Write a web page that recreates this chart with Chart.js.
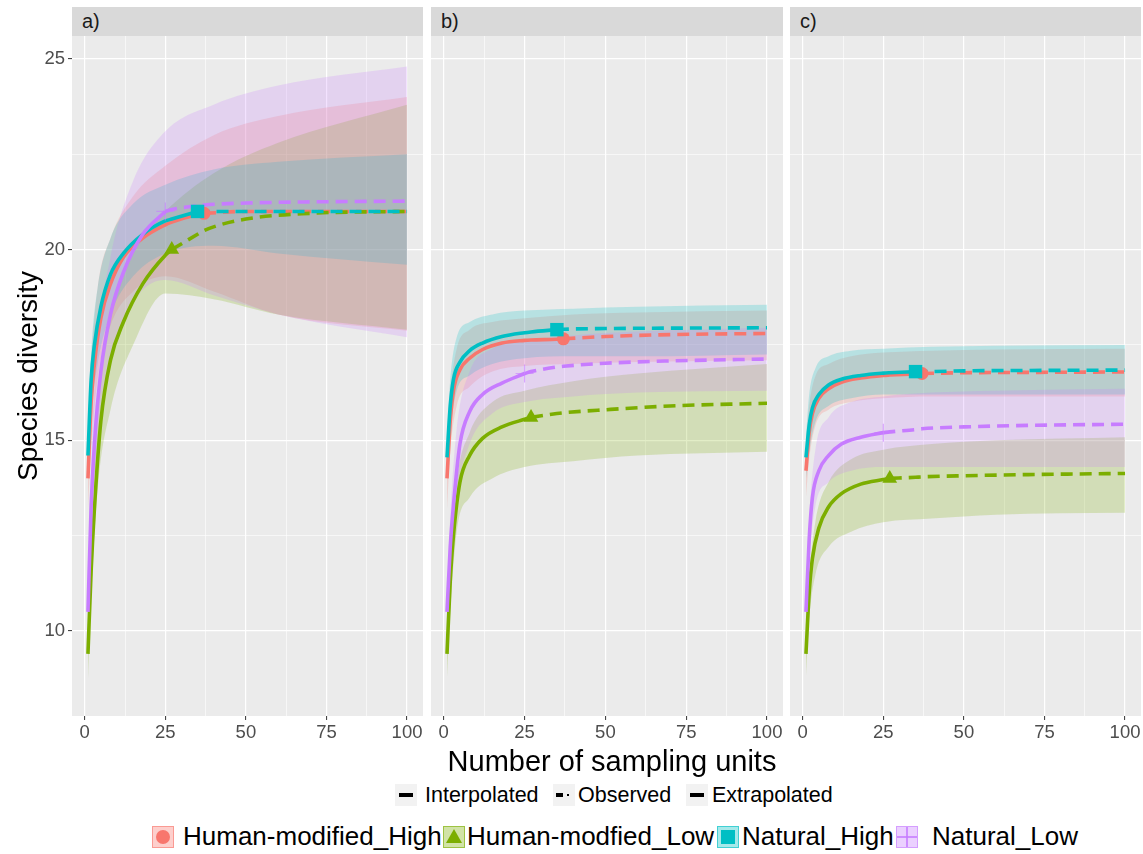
<!DOCTYPE html>
<html>
<head>
<meta charset="utf-8">
<script src="https://cdn.jsdelivr.net/npm/chart.js@4.4.1/dist/chart.umd.min.js"></script>
<style>
  body { margin: 0; background: #fff; width: 1143px; height: 854px; position: relative; overflow: hidden;
         font-family: "Liberation Sans", Arial, sans-serif; }
  canvas { position: absolute; }
  .strip { position: absolute; top: 7px; height: 29px; background: #D9D9D9; }
  .strip span { position: absolute; left: 10px; top: 0; line-height: 29px; font-size: 20px; color: #1A1A1A; }
  .lab { position: absolute; white-space: nowrap; color: #000; }
  .lkey { position: absolute; width: 22px; height: 22px; background: #F2F2F2; top: 784px; }
  .lkey i { position: absolute; background: #000; }
  .fkey { position: absolute; width: 20px; height: 20px; top: 826px; }
</style>
</head>
<body>

<div class="strip" style="left:72px;width:351px"><span>a)</span></div>
<div class="strip" style="left:431px;width:352px"><span>b)</span></div>
<div class="strip" style="left:790px;width:351px"><span>c)</span></div>

<canvas id="pa" width="423" height="710" style="left:0;top:36px"></canvas>
<canvas id="pb" width="352" height="710" style="left:431px;top:36px"></canvas>
<canvas id="pc" width="351" height="710" style="left:790px;top:36px"></canvas>

<div class="lab" style="left:0;width:1224px;top:744px;line-height:34px;font-size:29px;text-align:center">Number of sampling units</div>
<div class="lab" style="left:-122px;width:300px;top:359px;line-height:34px;font-size:28px;text-align:center;transform:rotate(-90deg)">Species diversity</div>

<div class="lkey" style="left:395px"><i style="left:4px;top:9px;width:14px;height:4px"></i></div>
<div class="lab" style="left:425px;top:783px;line-height:24px;font-size:21.5px">Interpolated</div>
<div class="lkey" style="left:553px"><i style="left:3px;top:9px;width:7px;height:4px"></i><i style="left:14px;top:10px;width:2px;height:2px"></i></div>
<div class="lab" style="left:578px;top:783px;line-height:24px;font-size:21.5px">Observed</div>
<div class="lkey" style="left:686px"><i style="left:4px;top:9px;width:14px;height:4px"></i></div>
<div class="lab" style="left:712px;top:783px;line-height:24px;font-size:21.5px">Extrapolated</div>

<div id="fillLegend"></div>

<script>
// sample sizes (x) for the curves and for the confidence bands
const lineX = [1, 2, 3, 5, 8, 12, 18, 25, 27, 35, 37, 50, 70, 100];
const bandX = [1, 2, 4, 8, 15, 25, 40, 60, 100];
const xTicks = [0, 12.5, 25, 37.5, 50, 62.5, 75, 87.5, 100];
const yTicks = [10, 12.5, 15, 17.5, 20, 22.5, 25];

const seriesNames = ['Human-modified_High', 'Human-modfied_Low', 'Natural_High', 'Natural_Low'];
const seriesColors = ['#F8766D', '#7CAE00', '#00BFC4', '#C77CFF'];
const obsX = [37, 27, 35, 25];

// panel a
const aHmHigh = [14.0, 16.0, 17.0, 18.2, 19.1, 19.8, 20.3, 20.65, 20.72, 20.92, 20.95, 21.0, 21.0, 21.0];
const aHmLow = [9.4, 11.6, 13.2, 15.5, 17.1, 18.1, 19.1, 19.85, 20.0, 20.4, 20.5, 20.8, 20.95, 21.0];
const aNatHigh = [14.6, 16.6, 17.5, 18.5, 19.35, 19.9, 20.4, 20.75, 20.8, 21.0, 21.0, 21.0, 21.0, 21.0];
const aNatLow = [10.5, 13.3, 14.9, 16.8, 18.3, 19.4, 20.4, 21.0, 21.05, 21.15, 21.17, 21.22, 21.25, 21.27];
const aHmHighLo = [13.2, 14.8, 16.6, 18.0, 18.9, 19.3, 18.9, 18.3, 17.87];
const aHmHighHi = [15.0, 17.0, 19.0, 20.3, 21.4, 22.2, 23.0, 23.5, 24.0];
const aHmLowLo = [8.7, 10.9, 13.7, 15.8, 17.5, 18.85, 18.7, 18.3, 17.9];
const aHmLowHi = [9.9, 12.3, 16.0, 18.3, 20.0, 21.0, 22.0, 22.8, 23.8];
const aNatHighLo = [14.0, 15.6, 17.0, 18.3, 19.3, 19.9, 20.1, 19.9, 19.6];
const aNatHighHi = [15.2, 17.3, 19.0, 20.3, 21.2, 21.7, 22.1, 22.3, 22.5];
const aNatLowLo = [10.0, 12.5, 15.0, 17.0, 18.6, 19.2, 18.8, 18.3, 17.7];
const aNatLowHi = [11.0, 14.5, 17.5, 19.8, 21.8, 23.1, 23.8, 24.3, 24.8];

// panel b
const bHmHigh = [14.0, 15.5, 16.3, 16.85, 17.15, 17.38, 17.55, 17.62, 17.63, 17.65, 17.66, 17.72, 17.77, 17.8];
const bHmLow = [9.4, 11.3, 12.5, 13.9, 14.6, 15.05, 15.35, 15.55, 15.6, 15.7, 15.72, 15.8, 15.9, 15.97];
const bNatHigh = [14.55, 15.9, 16.6, 17.05, 17.35, 17.55, 17.72, 17.82, 17.84, 17.9, 17.91, 17.93, 17.94, 17.95];
const bNatLow = [10.5, 12.2, 13.3, 14.9, 15.75, 16.2, 16.5, 16.75, 16.8, 16.92, 16.94, 17.02, 17.08, 17.13];
const bHmHighLo = [13.2, 14.7, 15.9, 16.4, 16.8, 16.95, 17.0, 17.05, 17.1];
const bHmHighHi = [14.8, 16.2, 17.4, 17.9, 18.1, 18.2, 18.3, 18.35, 18.4];
const bHmLowLo = [8.8, 10.5, 12.6, 13.5, 14.0, 14.3, 14.45, 14.6, 14.7];
const bHmLowHi = [9.9, 11.7, 13.9, 15.2, 16.0, 16.3, 16.55, 16.75, 17.0];
const bNatHighLo = [14.0, 15.2, 16.3, 16.7, 17.0, 17.15, 17.2, 17.2, 17.25];
const bNatHighHi = [15.1, 16.6, 17.7, 18.1, 18.3, 18.4, 18.45, 18.5, 18.55];
const bNatLowLo = [10.0, 11.5, 13.5, 14.9, 15.7, 16.0, 16.15, 16.25, 16.3];
const bNatLowHi = [11.0, 13.0, 15.3, 16.8, 17.4, 17.6, 17.75, 17.85, 17.95];

// panel c
const cHmHigh = [14.2, 15.2, 15.7, 16.1, 16.35, 16.52, 16.63, 16.7, 16.71, 16.74, 16.75, 16.77, 16.78, 16.79];
const cHmLow = [9.4, 11.0, 11.9, 12.7, 13.25, 13.6, 13.85, 13.97, 14.0, 14.03, 14.04, 14.07, 14.1, 14.13];
const cNatHigh = [14.55, 15.4, 15.85, 16.2, 16.45, 16.6, 16.7, 16.76, 16.77, 16.8, 16.8, 16.82, 16.83, 16.84];
const cNatLow = [10.5, 12.4, 13.5, 14.2, 14.6, 14.9, 15.08, 15.2, 15.22, 15.28, 15.3, 15.35, 15.39, 15.42];
const cHmHighLo = [13.5, 14.5, 15.4, 15.8, 16.0, 16.1, 16.15, 16.15, 16.15];
const cHmHighHi = [14.9, 15.9, 16.7, 17.0, 17.2, 17.3, 17.35, 17.38, 17.4];
const cHmLowLo = [8.8, 10.3, 11.5, 12.2, 12.6, 12.85, 12.95, 13.05, 13.1];
const cHmLowHi = [9.9, 11.4, 12.9, 13.9, 14.5, 14.75, 14.9, 15.0, 15.08];
const cNatHighLo = [14.0, 14.7, 15.5, 15.9, 16.1, 16.2, 16.2, 16.2, 16.2];
const cNatHighHi = [15.1, 16.2, 16.9, 17.2, 17.35, 17.4, 17.45, 17.48, 17.5];
const cNatLowLo = [10.0, 11.8, 13.3, 13.9, 14.2, 14.3, 14.3, 14.3, 14.3];
const cNatLowHi = [11.0, 13.0, 14.8, 15.6, 16.0, 16.15, 16.25, 16.3, 16.35];

function rgba(hex, a) {
  var n = parseInt(hex.slice(1), 16);
  return 'rgba(' + (n >> 16) + ',' + ((n >> 8) & 255) + ',' + (n & 255) + ',' + a + ')';
}

const pointStyles = ['circle', 'triangle', 'rect', 'cross'];
const pointSizes = [6.5, 8.5, 9.5, 9];

function makePanel(id, means, los, his, showY) {
  var datasets = [];
  for (var i = 0; i < 4; i++) {
    var col = seriesColors[i];
    datasets.push({
      data: bandX.map(function(x, k) { return {x: x, y: his[i][k]}; }),
      fill: '+1', backgroundColor: rgba(col, 0.22), borderWidth: 0, pointRadius: 0,
      cubicInterpolationMode: 'monotone', order: 100 - i
    });
    datasets.push({
      data: bandX.map(function(x, k) { return {x: x, y: los[i][k]}; }),
      fill: false, borderWidth: 0, pointRadius: 0, cubicInterpolationMode: 'monotone', order: 100 - i
    });
    var pts = lineX.map(function(x, k) { return {x: x, y: means[i][k]}; });
    datasets.push({
      data: pts.filter(function(p) { return p.x <= obsX[i]; }),
      borderColor: col, borderWidth: 3.6, pointRadius: 0, fill: false,
      cubicInterpolationMode: 'monotone', order: 50 - i
    });
    datasets.push({
      data: pts.filter(function(p) { return p.x >= obsX[i]; }),
      borderColor: col, borderWidth: 3.6, borderDash: [12, 7], pointRadius: 0, fill: false,
      cubicInterpolationMode: 'monotone', order: 50 - i
    });
    datasets.push({
      data: pts.filter(function(p) { return p.x === obsX[i]; }),
      showLine: false, pointStyle: pointStyles[i], pointRadius: pointSizes[i],
      backgroundColor: col, borderColor: i === 3 ? rgba(col, 0.6) : col,
      borderWidth: i === 3 ? 1.2 : 0, order: 10 - i
    });
  }

  new Chart(document.getElementById(id), {
    type: 'line',
    data: { datasets: datasets },
    options: {
      responsive: false,
      animation: false,
      events: [],
      layout: { padding: 0, autoPadding: false },
      plugins: { legend: { display: false }, tooltip: { enabled: false } },
      scales: {
        x: {
          type: 'linear', min: -3.95, max: 104.95,
          afterBuildTicks: function(axis) { axis.ticks = xTicks.map(function(v) { return {value: v}; }); },
          afterFit: function(axis) { axis.height = 30; axis.paddingLeft = 0; axis.paddingRight = 0; },
          border: { display: false },
          grid: {
            color: '#FFFFFF',
            lineWidth: function(ctx) { return ctx.tick && ctx.tick.value % 25 === 0 ? 1.2 : 0.6; },
            tickColor: function(ctx) { return ctx.tick && ctx.tick.value % 25 === 0 ? '#333333' : 'rgba(0,0,0,0)'; },
            tickLength: 4, tickWidth: 1
          },
          ticks: {
            autoSkip: false, maxRotation: 0, padding: 2, color: '#4D4D4D',
            font: { family: 'Liberation Sans', size: 18.5 },
            callback: function(v) { return v % 25 === 0 ? String(v) : ''; }
          }
        },
        y: {
          type: 'linear', min: 7.77, max: 25.6,
          afterBuildTicks: function(axis) { axis.ticks = yTicks.map(function(v) { return {value: v}; }); },
          afterFit: function(axis) { axis.width = showY ? 72 : 0; axis.paddingTop = 0; axis.paddingBottom = 0; },
          border: { display: false },
          grid: {
            color: '#FFFFFF',
            lineWidth: function(ctx) { return ctx.tick && ctx.tick.value % 5 === 0 ? 1.2 : 0.6; },
            tickColor: function(ctx) { return showY && ctx.tick && ctx.tick.value % 5 === 0 ? '#333333' : 'rgba(0,0,0,0)'; },
            drawTicks: showY, tickLength: 4, tickWidth: 1
          },
          ticks: {
            display: showY, padding: 3, color: '#4D4D4D',
            font: { family: 'Liberation Sans', size: 18.5 },
            callback: function(v) { return v % 5 === 0 ? String(v) : ''; }
          }
        }
      }
    },
    plugins: [{
      id: 'panelBg',
      beforeDraw: function(chart) {
        var a = chart.chartArea, c = chart.ctx;
        c.save();
        c.fillStyle = '#EBEBEB';
        c.fillRect(a.left, a.top, a.right - a.left, a.bottom - a.top);
        c.restore();
      }
    }]
  });
}

makePanel('pa', [aHmHigh, aHmLow, aNatHigh, aNatLow],
  [aHmHighLo, aHmLowLo, aNatHighLo, aNatLowLo], [aHmHighHi, aHmLowHi, aNatHighHi, aNatLowHi], true);
makePanel('pb', [bHmHigh, bHmLow, bNatHigh, bNatLow],
  [bHmHighLo, bHmLowLo, bNatHighLo, bNatLowLo], [bHmHighHi, bHmLowHi, bNatHighHi, bNatLowHi], false);
makePanel('pc', [cHmHigh, cHmLow, cNatHigh, cNatLow],
  [cHmHighLo, cHmLowLo, cNatHighLo, cNatLowLo], [cHmHighHi, cHmLowHi, cNatHighHi, cNatLowHi], false);

// fill legend (colour key with observed-point marker)
var keyLeft = [152, 443, 717, 896];
var textLeft = [183, 467, 742, 932];
var holder = document.getElementById('fillLegend');
seriesNames.forEach(function(name, i) {
  var col = seriesColors[i];
  var key = document.createElement('div');
  key.className = 'fkey';
  key.style.left = keyLeft[i] + 'px';
  key.style.background = rgba(col, 0.35);
  key.style.border = '1px solid ' + rgba(col, 0.6);
  var m = document.createElement('div');
  m.style.position = 'absolute';
  if (i === 0) {
    m.style.cssText += 'left:3px;top:3px;width:14px;height:14px;border-radius:50%;background:' + col;
  } else if (i === 1) {
    m.style.cssText += 'left:2px;top:2px;width:0;height:0;border-left:8px solid transparent;border-right:8px solid transparent;border-bottom:14px solid ' + col;
  } else if (i === 2) {
    m.style.cssText += 'left:3px;top:3px;width:14px;height:14px;background:' + col;
  } else {
    m.style.cssText += 'left:0;top:9px;width:20px;height:2px;background:' + rgba(col, 0.8);
    var v = document.createElement('div');
    v.style.cssText = 'position:absolute;left:9px;top:0;width:2px;height:20px;background:' + rgba(col, 0.8);
    key.appendChild(v);
  }
  key.appendChild(m);
  holder.appendChild(key);
  var t = document.createElement('div');
  t.className = 'lab';
  t.style.cssText += 'left:' + textLeft[i] + 'px;top:821px;line-height:30px;font-size:26px';
  t.textContent = name;
  holder.appendChild(t);
});
</script>
</body>
</html>
